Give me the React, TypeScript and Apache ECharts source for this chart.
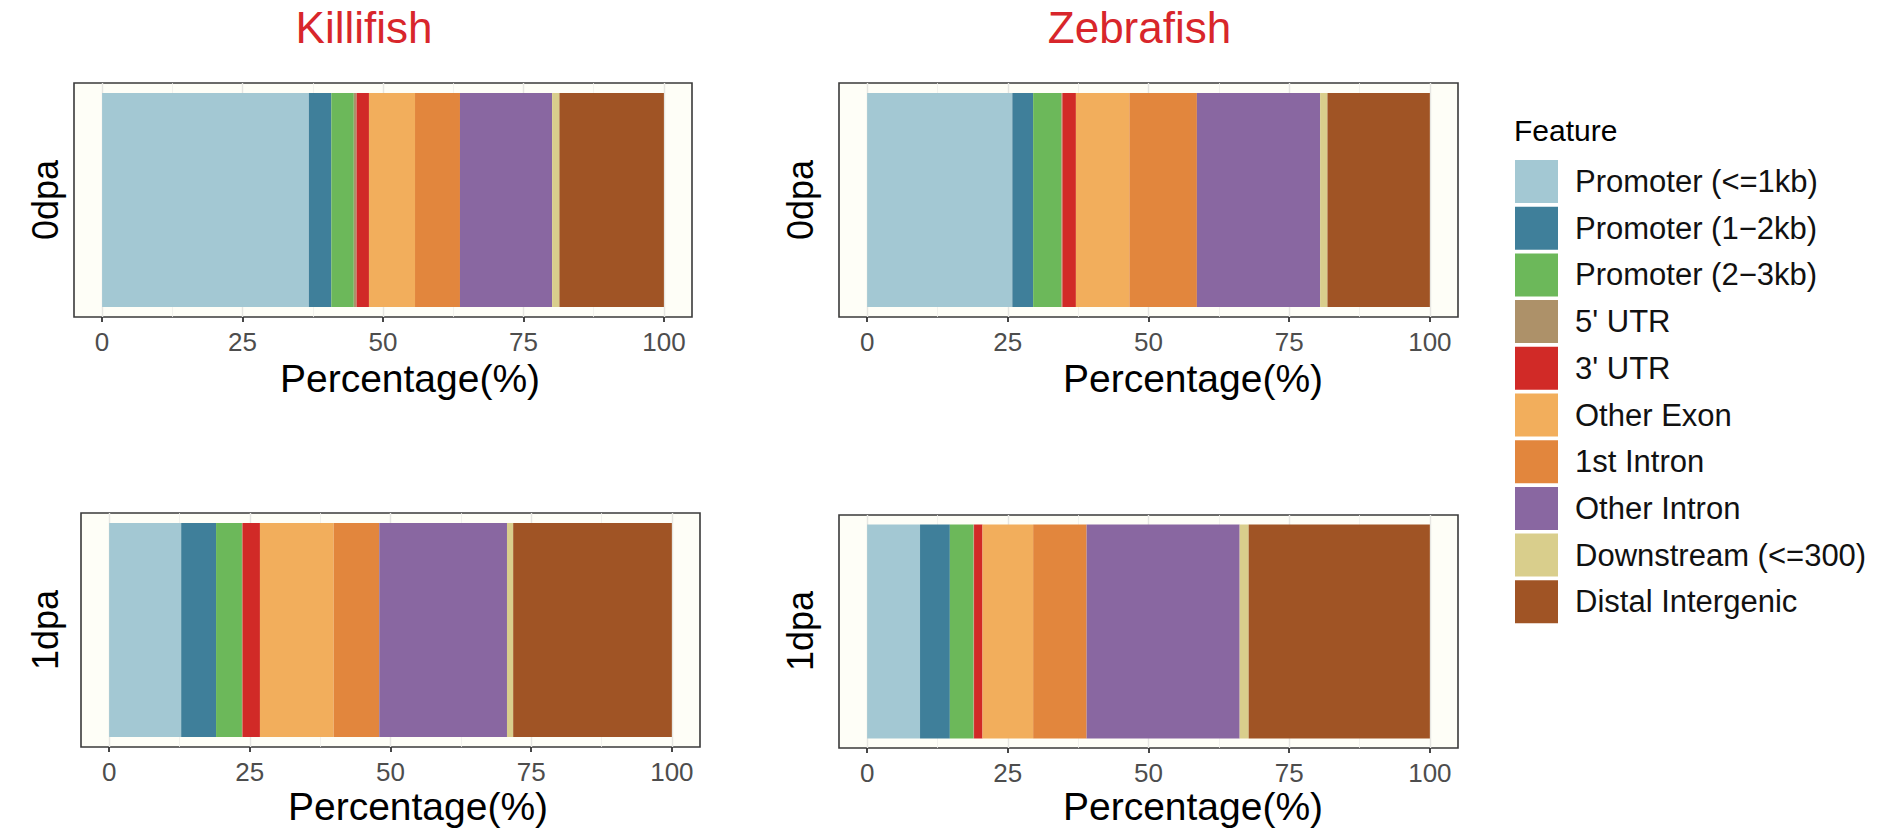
import { useEffect, useRef } from 'react';
import * as echarts from 'echarts';

// ---------- data ----------
const FEATURES = [
  'Promoter (<=1kb)',
  'Promoter (1\u22122kb)',
  'Promoter (2\u22123kb)',
  "5' UTR",
  "3' UTR",
  'Other Exon',
  '1st Intron',
  'Other Intron',
  'Downstream (<=300)',
  'Distal Intergenic',
];
const COLORS = ['#A3C8D3', '#3F7F9A', '#6CB85A', '#AD9169', '#D12A27', '#F2AE5C', '#E2863D', '#8967A1', '#D9CE8C', '#A05425'];

const SPECIES = ['Killifish', 'Zebrafish'];
const STAGES = ['0dpa', '1dpa'];

const KILLIFISH_0DPA = [36.8, 4.0, 4.0, 0.5, 2.2, 8.2, 8.0, 16.4, 1.3, 18.6];
const ZEBRAFISH_0DPA = [25.8, 3.7, 5.0, 0.2, 2.4, 9.5, 12.0, 21.9, 1.3, 18.2];
const KILLIFISH_1DPA = [12.8, 6.2, 4.6, 0.1, 3.1, 13.1, 8.1, 22.7, 1.1, 28.2];
const ZEBRAFISH_1DPA = [9.4, 5.3, 4.2, 0.1, 1.5, 9.0, 9.5, 27.2, 1.6, 32.2];

const X_TICKS = [0, 25, 50, 75, 100];
const X_TITLE = 'Percentage(%)';
const LEGEND_TITLE = 'Feature';

// ---------- layout ----------
const FONT = '"Liberation Sans", Arial, Helvetica, sans-serif';
const PANELS = [
  { values: KILLIFISH_0DPA, stage: STAGES[0], left: 74, top: 83, width: 618, height: 234, yl: [45, 200], xt: [410, 378.5] },
  { values: ZEBRAFISH_0DPA, stage: STAGES[0], left: 839, top: 83, width: 619, height: 234, yl: [800, 200], xt: [1193, 378.5] },
  { values: KILLIFISH_1DPA, stage: STAGES[1], left: 81, top: 513, width: 619, height: 234, yl: [45, 630], xt: [418, 806.5] },
  { values: ZEBRAFISH_1DPA, stage: STAGES[1], left: 839, top: 515, width: 619, height: 233, yl: [800, 631], xt: [1193, 806.5] },
];
const TITLE_POS = [
  [364, 27.5],
  [1139.5, 27.5],
];

function buildOption() {
  const xMin = X_TICKS[0];
  const xMax = X_TICKS[X_TICKS.length - 1];
  const pad = (xMax - xMin) * 0.05;
  const grids: any[] = [];
  const xAxes: any[] = [];
  const yAxes: any[] = [];
  const series: any[] = [];
  const graphics: any[] = [];

  PANELS.forEach((p, i) => {
    grids.push({
      left: p.left,
      top: p.top,
      width: p.width,
      height: p.height,
      show: true,
      backgroundColor: '#FEFEF7',
      borderColor: '#3A3A3A',
      borderWidth: 1.6,
    });
    xAxes.push({ gridIndex: i, type: 'value', min: xMin - pad, max: xMax + pad, show: false });
    yAxes.push({ gridIndex: i, type: 'category', data: [p.stage], show: false });
    FEATURES.forEach((f, k) => {
      series.push({
        type: 'bar',
        name: f,
        xAxisIndex: i,
        yAxisIndex: i,
        stack: 'panel' + i,
        barWidth: 214,
        data: [p.values[k]],
        itemStyle: { color: COLORS[k] },
        emphasis: { disabled: true },
      });
    });
    graphics.push({
      type: 'text',
      x: p.yl[0],
      y: p.yl[1],
      rotation: Math.PI / 2,
      style: { text: p.stage, fontSize: 36, fontFamily: FONT, fill: '#000', align: 'center', verticalAlign: 'middle' },
    });
    graphics.push({
      type: 'text',
      x: p.xt[0],
      y: p.xt[1],
      style: { text: X_TITLE, fontSize: 39, fontFamily: FONT, fill: '#000', align: 'center', verticalAlign: 'middle' },
    });
  });

  // overlay grids holding gridlines, ticks and tick labels over the 0..100 span
  PANELS.forEach((p, i) => {
    const unit = p.width / (xMax - xMin + 2 * pad);
    grids.push({
      left: p.left + pad * unit,
      top: p.top,
      width: (xMax - xMin) * unit,
      height: p.height,
      show: false,
    });
    xAxes.push({
      gridIndex: PANELS.length + i,
      type: 'value',
      min: xMin,
      max: xMax,
      interval: X_TICKS[1] - X_TICKS[0],
      axisLine: { show: false },
      axisTick: { show: true, length: 5, lineStyle: { color: '#333', width: 1.8 } },
      axisLabel: { show: true, fontSize: 26, fontFamily: FONT, color: '#4D4D4D', margin: 12 },
      splitLine: { show: true, lineStyle: { color: '#E6E6E2', width: 1.4 } },
      minorTick: { show: false, splitNumber: 2 },
      minorSplitLine: { show: true, lineStyle: { color: '#EFEFEA', width: 0.8 } },
    });
    yAxes.push({ gridIndex: PANELS.length + i, type: 'value', show: false });
  });

  SPECIES.forEach((s, i) => {
    graphics.push({
      type: 'text',
      x: TITLE_POS[i][0],
      y: TITLE_POS[i][1],
      style: { text: s, fontSize: 44, fontFamily: FONT, fill: '#D8262B', align: 'center', verticalAlign: 'middle' },
    });
  });

  graphics.push({
    type: 'text',
    x: 1514,
    y: 130,
    style: { text: LEGEND_TITLE, fontSize: 30, fontFamily: FONT, fill: '#000', align: 'left', verticalAlign: 'middle' },
  });

  return {
    animation: false,
    backgroundColor: '#FFFFFF',
    grid: grids,
    xAxis: xAxes,
    yAxis: yAxes,
    series,
    legend: {
      orient: 'vertical',
      left: 1515,
      top: 160,
      padding: 0,
      itemWidth: 43,
      itemHeight: 43,
      itemGap: 3.7,
      icon: 'rect',
      selectedMode: false,
      data: FEATURES,
      textStyle: { fontSize: 31, fontFamily: FONT, color: '#111', padding: [0, 0, 0, 12] },
    },
    graphic: graphics,
  };
}

export default function App() {
  const ref = useRef<HTMLDivElement>(null);
  useEffect(() => {
    document.body.style.margin = '0';
    document.body.style.overflow = 'hidden';
    const chart = echarts.init(ref.current!, null, { renderer: 'svg' });
    chart.setOption(buildOption() as any);
    return () => chart.dispose();
  }, []);
  return <div ref={ref} style={{ width: 1877, height: 829 }} />;
}
